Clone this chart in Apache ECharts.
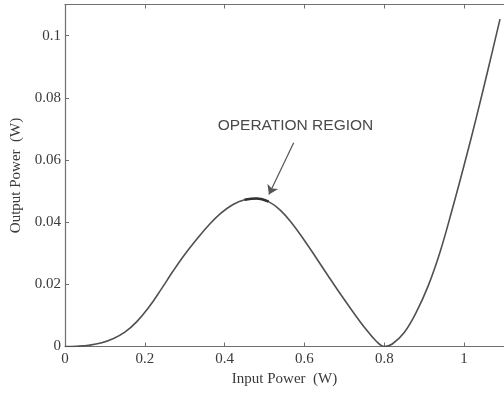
<!DOCTYPE html>
<html>
<head>
<meta charset="utf-8">
<script src="https://cdn.jsdelivr.net/npm/echarts@6/dist/echarts.min.js"></script>
<style>
html,body{margin:0;padding:0;background:#fff;}
#chart{width:504px;height:396px;}
</style>
</head>
<body>
<div id="chart"></div>
<script>
// Input power (W)
var inputPower = [0, 0.03, 0.06, 0.09, 0.12, 0.15, 0.18, 0.21, 0.24, 0.27, 0.30, 0.33, 0.36, 0.39, 0.42, 0.45, 0.48, 0.51, 0.54, 0.57, 0.60, 0.63, 0.66, 0.69, 0.72, 0.75, 0.78, 0.80, 0.82, 0.85, 0.88, 0.91, 0.94, 0.97, 1.00, 1.03, 1.06, 1.09];
// Output power (W)
var outputPower = [0, 0.0001, 0.0004, 0.0011, 0.0025, 0.0046, 0.008, 0.0126, 0.0182, 0.0241, 0.0296, 0.0345, 0.039, 0.0428, 0.0456, 0.0472, 0.0476, 0.0466, 0.0438, 0.0394, 0.0341, 0.0284, 0.0226, 0.0169, 0.0114, 0.0062, 0.0017, 0, 0.0008, 0.0045, 0.011, 0.0195, 0.0305, 0.044, 0.0583, 0.0733, 0.0891, 0.1053];
var xTicks = [0, 0.2, 0.4, 0.6, 0.8, 1];
var yTicks = [0, 0.02, 0.04, 0.06, 0.08, 0.1];
var annotationText = 'OPERATION REGION';
var arrowFrom = [0.573, 0.0655];
var arrowTo = [0.511, 0.0489];
var opRange = [0.45, 0.51];

var mainData = inputPower.map(function (x, i) { return [x, outputPower[i]]; });
var opData = mainData.filter(function (p) { return p[0] >= opRange[0] && p[0] <= opRange[1]; });

var chart = echarts.init(document.getElementById('chart'), null, {renderer: 'canvas'});
var serif = '"Liberation Serif", "DejaVu Serif", serif';
var axisColor = '#6f6f6f';
var textColor = '#3a3a3a';

var option = {
  animation: false,
  backgroundColor: '#ffffff',
  grid: {left: 65, top: 4.5, right: -6, bottom: 49.5, containLabel: false},
  xAxis: [{
    type: 'value', min: 0, max: 1.1, interval: 0.2, position: 'bottom',
    name: 'Input Power  (W)', nameLocation: 'middle', nameGap: 23,
    nameTextStyle: {fontFamily: serif, fontSize: 15, color: textColor},
    axisLine: {show: true, onZero: false, lineStyle: {color: axisColor, width: 1.2}},
    axisTick: {show: true, inside: true, length: 4, lineStyle: {color: axisColor}},
    axisLabel: {show: true, fontFamily: serif, fontSize: 15, color: textColor, margin: 5,
      showMaxLabel: false,
      formatter: function (v) { var r = Math.round(v * 10) / 10; return xTicks.indexOf(r) >= 0 ? String(r) : ''; }},
    splitLine: {show: false}
  }, {
    type: 'value', min: 0, max: 1.1, interval: 0.2, position: 'top',
    axisLine: {show: true, onZero: false, lineStyle: {color: axisColor, width: 1.2}},
    axisTick: {show: true, inside: true, length: 4, lineStyle: {color: axisColor}},
    axisLabel: {show: false},
    splitLine: {show: false}
  }],
  yAxis: [{
    type: 'value', min: 0, max: 0.11, interval: 0.02,
    name: 'Output Power  (W)', nameLocation: 'middle', nameGap: 36,
    nameTextStyle: {fontFamily: serif, fontSize: 15, color: textColor},
    axisLine: {show: true, onZero: false, lineStyle: {color: axisColor, width: 1.2}},
    axisTick: {show: true, inside: true, length: 4, lineStyle: {color: axisColor}},
    axisLabel: {show: true, fontFamily: serif, fontSize: 15, color: textColor, margin: 4,
      showMaxLabel: false,
      formatter: function (v) { var r = Math.round(v * 100) / 100; return yTicks.indexOf(r) >= 0 ? String(r) : ''; }},
    splitLine: {show: false}
  }],
  series: [{
    type: 'line', data: mainData, xAxisIndex: 0, yAxisIndex: 0,
    smooth: 0.4, showSymbol: false, clip: true,
    lineStyle: {color: '#505050', width: 1.6},
    markLine: {
      silent: true, symbol: ['none', 'arrow'], symbolSize: 9,
      lineStyle: {color: '#555', width: 1.2, type: 'solid'},
      itemStyle: {color: '#555'},
      label: {show: false},
      emphasis: {disabled: true},
      data: [[{coord: arrowFrom}, {coord: arrowTo}]]
    }
  }, {
    type: 'line', data: opData, xAxisIndex: 0, yAxisIndex: 0,
    smooth: 0.4, showSymbol: false,
    lineStyle: {color: '#303030', width: 2.6}
  }]
};
chart.setOption(option);

var pos = chart.convertToPixel({xAxisIndex: 0, yAxisIndex: 0}, [arrowFrom[0], arrowFrom[1]]);
chart.setOption({
  graphic: [{
    type: 'text', left: pos[0] - 76, top: pos[1] - 25,
    style: {text: annotationText, fontFamily: '"Liberation Sans", Arial, sans-serif', fontSize: 15.5,
      fill: '#4a4a4a'}
  }]
});
</script>
</body>
</html>
